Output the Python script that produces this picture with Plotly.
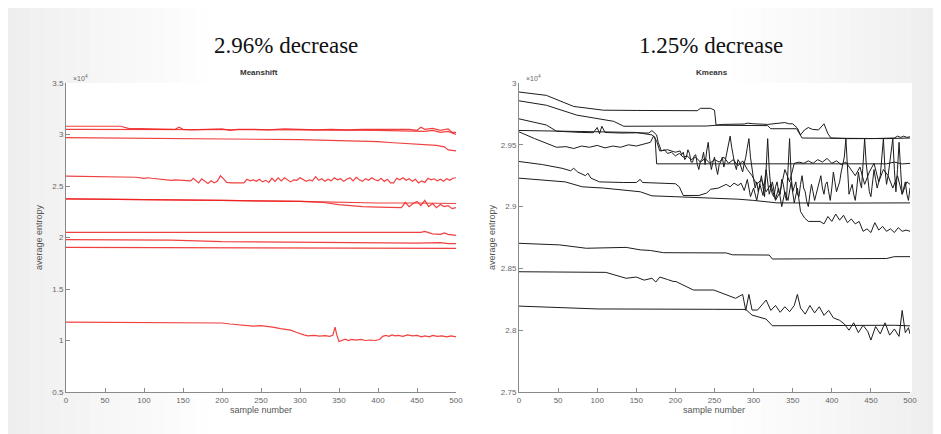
import plotly.graph_objects as go

# ---------------- DATA (values in units of 10^4) ----------------
# Meanshift panel
ms1_x = [0, 70, 80, 100, 140, 145, 150, 160, 180, 200, 210, 220, 240, 260, 280, 300, 320, 340, 360, 380, 400, 420, 440, 450, 455, 460, 470, 480, 490, 495, 500]
ms1_y = [3.08, 3.08, 3.06, 3.055, 3.05, 3.07, 3.05, 3.045, 3.05, 3.055, 3.04, 3.05, 3.05, 3.045, 3.055, 3.05, 3.045, 3.05, 3.045, 3.05, 3.05, 3.045, 3.05, 3.04, 3.07, 3.05, 3.06, 3.04, 3.055, 3.02, 3.02]
ms2_x = [0, 100, 200, 300, 400, 440, 460, 470, 480, 490, 500]
ms2_y = [3.05, 3.05, 3.048, 3.045, 3.04, 3.035, 3.03, 3.04, 3.02, 3.03, 3.0]
ms3_x = [0, 100, 200, 300, 350, 380, 400, 420, 440, 460, 475, 485, 490, 500]
ms3_y = [2.97, 2.965, 2.96, 2.95, 2.94, 2.935, 2.93, 2.92, 2.91, 2.9, 2.895, 2.88, 2.85, 2.84]
ms4_x = [0, 60, 90, 100, 105, 110, 130, 135, 140, 150, 160, 163, 166, 170, 174, 178, 182, 186, 190, 194, 198, 202, 206, 212, 220, 228, 232, 236, 240, 244, 248, 252, 256, 260, 264, 268, 272, 276, 280, 284, 288, 292, 296, 300, 304, 308, 312, 316, 320, 324, 328, 332, 336, 340, 344, 348, 352, 356, 360, 364, 368, 372, 376, 380, 384, 388, 392, 396, 400, 404, 408, 412, 416, 420, 424, 428, 432, 436, 440, 444, 448, 452, 456, 460, 464, 468, 472, 476, 480, 484, 488, 492, 496, 500]
ms4_y = [2.595, 2.59, 2.585, 2.575, 2.58, 2.575, 2.56, 2.555, 2.56, 2.555, 2.55, 2.575, 2.555, 2.53, 2.57, 2.545, 2.525, 2.55, 2.53, 2.545, 2.6, 2.57, 2.535, 2.53, 2.53, 2.53, 2.565, 2.55, 2.56, 2.545, 2.565, 2.54, 2.555, 2.535, 2.575, 2.545, 2.58, 2.55, 2.58, 2.56, 2.54, 2.56, 2.555, 2.58, 2.56, 2.545, 2.56, 2.55, 2.59, 2.555, 2.57, 2.545, 2.565, 2.55, 2.58, 2.56, 2.57, 2.545, 2.565, 2.58, 2.55, 2.585, 2.56, 2.545, 2.57, 2.555, 2.58, 2.56, 2.55, 2.575, 2.545, 2.565, 2.53, 2.53, 2.575, 2.56, 2.58, 2.555, 2.57, 2.545, 2.565, 2.53, 2.55, 2.535, 2.575, 2.56, 2.57, 2.55, 2.565, 2.545, 2.57, 2.555, 2.575, 2.58]
ms5_x = [0, 100, 200, 300, 350, 400, 450, 500]
ms5_y = [2.375, 2.37, 2.36, 2.35, 2.34, 2.335, 2.335, 2.33]
ms6_x = [0, 100, 200, 300, 330, 350, 380, 400, 420, 430, 435, 440, 445, 450, 455, 460, 465, 470, 475, 480, 485, 490, 495, 500]
ms6_y = [2.375, 2.37, 2.36, 2.35, 2.34, 2.32, 2.3, 2.295, 2.29, 2.29, 2.34, 2.3, 2.33, 2.35, 2.31, 2.36, 2.3, 2.33, 2.29, 2.32, 2.3, 2.31, 2.28, 2.29]
ms7_x = [0, 200, 400, 455, 460, 470, 480, 485, 490, 500]
ms7_y = [2.05, 2.05, 2.05, 2.05, 2.06, 2.035, 2.03, 2.045, 2.03, 2.02]
ms8_x = [0, 100, 130, 135, 200, 300, 365, 400, 450, 480, 490, 500]
ms8_y = [1.98, 1.975, 1.97, 1.975, 1.96, 1.955, 1.952, 1.945, 1.945, 1.95, 1.94, 1.94]
ms9_x = [0, 250, 500]
ms9_y = [1.905, 1.9, 1.895]
ms10_x = [0, 100, 150, 200, 210, 220, 230, 240, 250, 258, 265, 275, 282, 288, 295, 300, 305, 310, 318, 325, 332, 338, 342, 345, 347, 350, 354, 358, 362, 366, 372, 378, 384, 390, 396, 402, 406, 410, 414, 418, 422, 426, 432, 438, 444, 450, 456, 460, 466, 470, 476, 482, 488, 494, 500]
ms10_y = [1.178, 1.177, 1.172, 1.17, 1.16, 1.155, 1.145, 1.14, 1.145, 1.14, 1.13, 1.115, 1.11, 1.1, 1.08, 1.065, 1.055, 1.045, 1.05, 1.042, 1.048, 1.04, 1.05, 1.13, 1.06, 0.99, 1.005, 1.012, 1.0, 1.01, 1.003, 1.01, 1.0, 1.005, 1.0, 1.01, 1.04, 1.05, 1.04, 1.055, 1.045, 1.05, 1.04, 1.055, 1.045, 1.05, 1.035, 1.045, 1.035, 1.05, 1.04, 1.045, 1.035, 1.045, 1.035]

# Kmeans panel
km1_x = [0, 35, 70, 108, 150, 200, 228, 232, 245, 250, 252, 260, 288, 292, 300, 318, 330, 340, 345, 350, 356, 360, 365, 370, 375, 383, 390, 395, 399, 420, 450, 480, 484, 488, 492, 496, 500]
km1_y = [2.9927, 2.99, 2.981, 2.978, 2.9778, 2.9776, 2.9776, 2.9795, 2.9795, 2.978, 2.966, 2.9665, 2.9668, 2.9675, 2.967, 2.9665, 2.967, 2.968, 2.967, 2.967, 2.9635, 2.958, 2.962, 2.964, 2.9625, 2.962, 2.967, 2.959, 2.9555, 2.955, 2.955, 2.9555, 2.957, 2.956, 2.957, 2.956, 2.9565]
km2_x = [0, 35, 74, 121, 134, 160, 200, 240, 252, 300, 318, 322, 355, 362, 420, 470, 500]
km2_y = [2.9856, 2.982, 2.974, 2.969, 2.965, 2.965, 2.9648, 2.9652, 2.9658, 2.966, 2.9655, 2.963, 2.963, 2.9555, 2.955, 2.955, 2.9555]
km3_x = [0, 35, 48, 60, 80, 95, 100, 103, 106, 110, 115, 130, 150, 166, 170, 173, 176, 178, 182, 186, 190, 195, 200, 205, 210, 215, 220, 226, 232, 238, 244, 250, 256, 262, 268, 274, 280, 286, 292, 298, 304, 310, 316, 322, 328, 334, 340, 346, 352, 358, 364, 370, 376, 382, 388, 394, 400, 406, 412, 418, 424, 430, 436, 442, 448, 454, 460, 466, 472, 478, 484, 490, 496, 500]
km3_y = [2.971, 2.966, 2.961, 2.9605, 2.96, 2.9598, 2.964, 2.959, 2.965, 2.96, 2.9598, 2.9595, 2.9597, 2.9595, 2.9615, 2.96, 2.958, 2.952, 2.945, 2.946, 2.943, 2.944, 2.941, 2.943, 2.94, 2.941, 2.938, 2.94, 2.936, 2.939, 2.935, 2.938, 2.936, 2.94, 2.935, 2.938, 2.933, 2.937, 2.93, 2.925, 2.918, 2.922, 2.912, 2.918, 2.905, 2.912, 2.93, 2.92, 2.935, 2.936, 2.935, 2.937, 2.935, 2.938, 2.936, 2.939, 2.935, 2.937, 2.934, 2.936, 2.93, 2.925, 2.932, 2.918, 2.928, 2.935, 2.92, 2.93, 2.925, 2.915, 2.925, 2.91, 2.92, 2.918]
km4_x = [0, 100, 150, 170, 174, 176, 222, 300, 400, 470, 480, 490, 500]
km4_y = [2.9616, 2.9605, 2.96, 2.958, 2.956, 2.9346, 2.9346, 2.9345, 2.9348, 2.9346, 2.936, 2.9345, 2.935]
km5_pts = [
    (0, 2.9605), (20, 2.955), (48, 2.948), (60, 2.9485), (70, 2.947), (80, 2.949), (90, 2.948), (100, 2.9495),
    (110, 2.9475), (120, 2.949), (130, 2.948), (140, 2.95), (150, 2.949), (160, 2.951), (168, 2.952), (172, 2.957),
    (176, 2.953), (180, 2.945), (190, 2.946), (200, 2.944),
    (206, 2.945), (208, 2.942), (210, 2.944), (212, 2.938), (214, 2.94), (216, 2.946), (218, 2.943), (220, 2.936),
    (222, 2.936), (224, 2.941), (226, 2.942), (228, 2.934), (230, 2.93), (232, 2.937), (234, 2.938), (236, 2.944),
    (238, 2.934), (240, 2.945), (242, 2.952), (244, 2.938), (246, 2.93), (248, 2.936), (250, 2.94), (252, 2.932),
    (254, 2.926), (256, 2.934), (258, 2.936), (260, 2.94), (262, 2.932), (264, 2.938), (266, 2.945), (268, 2.95),
    (270, 2.957), (272, 2.948), (274, 2.94), (276, 2.934), (278, 2.93), (280, 2.938), (282, 2.936), (284, 2.932),
    (286, 2.928), (288, 2.935), (290, 2.94), (292, 2.948), (294, 2.955), (296, 2.94), (298, 2.93), (300, 2.922),
    (302, 2.915), (304, 2.92), (306, 2.912), (308, 2.918), (310, 2.925), (312, 2.916), (314, 2.908), (316, 2.93),
    (318, 2.955), (320, 2.93), (322, 2.915), (324, 2.91), (326, 2.908), (328, 2.916), (330, 2.92), (332, 2.912),
    (334, 2.91), (336, 2.922), (338, 2.918), (340, 2.91), (342, 2.905), (344, 2.93), (346, 2.955), (348, 2.925),
    (350, 2.912), (352, 2.916), (354, 2.92), (356, 2.91), (358, 2.908), (360, 2.918), (362, 2.925), (364, 2.915),
    (366, 2.912), (368, 2.904), (370, 2.9), (372, 2.91), (374, 2.918), (376, 2.912), (378, 2.905), (380, 2.91),
    (382, 2.915), (384, 2.92), (386, 2.925), (388, 2.915), (390, 2.91), (392, 2.918), (394, 2.92), (396, 2.912),
    (398, 2.905), (400, 2.915), (402, 2.928), (404, 2.92), (406, 2.912), (408, 2.916), (410, 2.92), (412, 2.928),
    (414, 2.935), (416, 2.94), (418, 2.955), (420, 2.93), (422, 2.91), (424, 2.914), (426, 2.918), (428, 2.91),
    (430, 2.905), (432, 2.915), (434, 2.928), (436, 2.92), (438, 2.915), (440, 2.935), (442, 2.955), (444, 2.935),
    (446, 2.92), (448, 2.912), (450, 2.908), (452, 2.918), (454, 2.93), (456, 2.922), (458, 2.915), (460, 2.92),
    (462, 2.925), (464, 2.94), (466, 2.955), (468, 2.93), (470, 2.918), (472, 2.925), (474, 2.935), (476, 2.945),
    (478, 2.955), (480, 2.93), (482, 2.912), (484, 2.93), (486, 2.952), (488, 2.93), (490, 2.91), (492, 2.915),
    (494, 2.92), (496, 2.91), (498, 2.905), (500, 2.915),
]
km5_x = [p[0] for p in km5_pts]
km5_y = [p[1] for p in km5_pts]
km6_x = [0, 30, 55, 66, 70, 75, 85, 88, 92, 103, 134, 150, 155, 158, 200, 205, 210, 230, 240, 245, 255, 265, 270, 275, 280, 284, 288, 292, 296, 300, 304, 308, 312, 316, 320, 324, 328, 332, 336, 340, 344, 348, 352, 356, 360, 365, 370, 375, 385, 390, 395, 400, 405, 410, 415, 420, 425, 430, 435, 440, 445, 450, 455, 460, 465, 470, 475, 480, 485, 490, 495, 500]
km6_y = [2.9365, 2.934, 2.931, 2.929, 2.931, 2.928, 2.925, 2.927, 2.923, 2.92, 2.9195, 2.9195, 2.922, 2.9195, 2.9185, 2.916, 2.909, 2.909, 2.911, 2.914, 2.915, 2.918, 2.916, 2.919, 2.917, 2.919, 2.913, 2.922, 2.908, 2.915, 2.905, 2.918, 2.909, 2.93, 2.91, 2.92, 2.906, 2.915, 2.9, 2.912, 2.905, 2.92, 2.903, 2.915, 2.896, 2.891, 2.888, 2.888, 2.888, 2.886, 2.892, 2.888, 2.894, 2.889, 2.893, 2.887, 2.89, 2.886, 2.888, 2.88, 2.882, 2.879, 2.887, 2.881, 2.884, 2.88, 2.882, 2.879, 2.883, 2.88, 2.881, 2.88]
km7_x = [0, 59, 81, 108, 155, 170, 200, 250, 280, 300, 330, 400, 450, 500]
km7_y = [2.923, 2.92, 2.916, 2.915, 2.912, 2.9087, 2.908, 2.907, 2.906, 2.905, 2.903, 2.9028, 2.9028, 2.903]
km8_x = [0, 52, 86, 133, 137, 155, 168, 185, 249, 265, 273, 320, 324, 400, 470, 480, 500]
km8_y = [2.8703, 2.869, 2.8663, 2.8665, 2.867, 2.865, 2.8645, 2.8627, 2.863, 2.8625, 2.861, 2.8608, 2.8576, 2.858, 2.858, 2.8595, 2.8595]
km9_x = [0, 111, 137, 150, 160, 170, 175, 180, 190, 197, 201, 223, 249, 277, 286, 290, 294, 298, 305, 316, 322, 328, 334, 340, 346, 352, 356, 360, 366, 372, 378, 384, 390, 396, 402, 410, 416, 422, 428, 434, 440, 446, 450, 456, 462, 468, 474, 480, 486, 490, 494, 498, 500]
km9_y = [2.8473, 2.8468, 2.842, 2.843, 2.8405, 2.842, 2.839, 2.843, 2.841, 2.8395, 2.8393, 2.8325, 2.8325, 2.8258, 2.829, 2.816, 2.829, 2.8163, 2.8163, 2.8244, 2.816, 2.82, 2.8145, 2.819, 2.815, 2.82, 2.829, 2.818, 2.813, 2.82, 2.814, 2.819, 2.812, 2.816, 2.81, 2.808, 2.805, 2.8, 2.806, 2.798, 2.804, 2.799, 2.792, 2.803, 2.797, 2.806, 2.796, 2.801, 2.795, 2.816, 2.798, 2.802, 2.797]
km10_x = [0, 57, 100, 249, 290, 298, 316, 324, 406, 420, 440, 460, 480, 500]
km10_y = [2.8195, 2.818, 2.8172, 2.8169, 2.8168, 2.8122, 2.809, 2.8036, 2.8038, 2.8035, 2.804, 2.8035, 2.804, 2.8035]

ms_series = [(ms1_x, ms1_y), (ms2_x, ms2_y), (ms3_x, ms3_y), (ms4_x, ms4_y), (ms5_x, ms5_y),
             (ms6_x, ms6_y), (ms7_x, ms7_y), (ms8_x, ms8_y), (ms9_x, ms9_y), (ms10_x, ms10_y)]
km_series = [(km1_x, km1_y), (km2_x, km2_y), (km3_x, km3_y), (km4_x, km4_y), (km5_x, km5_y),
             (km6_x, km6_y), (km7_x, km7_y), (km8_x, km8_y), (km9_x, km9_y), (km10_x, km10_y)]

x_ticks = [0, 50, 100, 150, 200, 250, 300, 350, 400, 450, 500]
ms_yticks = [0.5, 1, 1.5, 2, 2.5, 3, 3.5]
ms_yticktext = ["0.5", "1", "1.5", "2", "2.5", "3", "3.5"]
km_yticks = [2.75, 2.8, 2.85, 2.9, 2.95, 3.0]
km_yticktext = ["2.75", "2.8", "2.85", "2.9", "2.95", "3"]

headline_left = "2.96% decrease"
headline_right = "1.25% decrease"

# ---------------- FIGURE ----------------
W, H = 941, 434
OFF = 8  # page offset of the figure inside the browser window

fig = go.Figure()
for sx, sy in ms_series:
    fig.add_trace(go.Scatter(x=sx, y=sy, mode="lines", xaxis="x", yaxis="y",
                             line=dict(color="rgba(238,30,30,0.85)", width=1.2), hoverinfo="skip"))
for sx, sy in km_series:
    fig.add_trace(go.Scatter(x=sx, y=sy, mode="lines", xaxis="x2", yaxis="y2",
                             line=dict(color="#1c1c1c", width=1.0), hoverinfo="skip"))

def px_x(p):
    return (p - OFF) / W

def px_y(p):
    return 1 - (p - OFF) / H

ydom = [px_y(392), px_y(83)]
axis_common = dict(showgrid=False, zeroline=False, showline=True, linecolor="#8a8a8a", linewidth=1,
                   ticks="inside", ticklen=4, tickcolor="#8a8a8a", automargin=False,
                   tickfont=dict(family="Liberation Sans, Arial", size=8, color="#666"))

fig.update_layout(
    width=W, height=H, showlegend=False,
    margin=dict(l=0, r=0, t=0, b=0, autoexpand=False),
    paper_bgcolor="white", plot_bgcolor="rgba(0,0,0,0)",
    xaxis=dict(domain=[px_x(66), px_x(456)], range=[0, 500], tickvals=x_ticks, anchor="y", **axis_common),
    yaxis=dict(domain=ydom, range=[0.5, 3.5], tickvals=ms_yticks, ticktext=ms_yticktext, anchor="x", **axis_common),
    xaxis2=dict(domain=[px_x(519), px_x(910)], range=[0, 500], tickvals=x_ticks, anchor="y2", **axis_common),
    yaxis2=dict(domain=ydom, range=[2.75, 3.0], tickvals=km_yticks, ticktext=km_yticktext, anchor="x2", **axis_common),
)

# slide background gradient (edges) + white figure boxes
shapes = []
n = 14
for i in range(n):
    a = 0.16 * (1 - i / n)
    shapes.append(dict(type="rect", xref="paper", yref="paper", layer="below",
                       x0=px_x(i * 15), x1=px_x((i + 1) * 15), y0=0, y1=1,
                       fillcolor=f"rgba(150,150,150,{a:.3f})", line=dict(width=0)))
for i in range(n):
    a = 0.16 * (1 - i / n)
    shapes.append(dict(type="rect", xref="paper", yref="paper", layer="below",
                       x0=px_x(W - (i + 1) * 15), x1=px_x(W - i * 15), y0=0, y1=1,
                       fillcolor=f"rgba(150,150,150,{a:.3f})", line=dict(width=0)))
shapes.append(dict(type="rect", xref="paper", yref="paper", layer="below",
                   x0=px_x(66), x1=px_x(458), y0=px_y(392), y1=px_y(83),
                   fillcolor="white", line=dict(width=0)))
shapes.append(dict(type="rect", xref="paper", yref="paper", layer="below",
                   x0=px_x(519), x1=px_x(912), y0=px_y(392), y1=px_y(83),
                   fillcolor="white", line=dict(width=0)))
fig.update_layout(shapes=shapes)

serif = "Liberation Serif, Times New Roman, serif"
sans = "Liberation Sans, Arial, sans-serif"

def label(text, x, y, size, color, family, angle=0):
    return dict(text=text, x=px_x(x), y=px_y(y), xref="paper", yref="paper",
                xanchor="center", yanchor="middle", showarrow=False, textangle=angle,
                font=dict(family=family, size=size, color=color))

ann = [
    label(headline_left, 286, 45, 23, "#111", serif),
    label(headline_right, 711, 45, 23, "#111", serif),
    label("<b>Meanshift</b>", 259, 73, 8, "#333", sans),
    label("<b>Kmeans</b>", 712, 73, 8, "#333", sans),
    label("sample number", 261, 410, 9, "#555", sans),
    label("sample number", 714, 410, 9, "#555", sans),
    label("average entropy", 39, 237, 9, "#555", sans, -90),
    label("average entropy", 492, 237, 9, "#555", sans, -90),
    label("×10<sup>4</sup>", 80, 78, 7, "#666", sans),
    label("×10<sup>4</sup>", 533, 78, 7, "#666", sans),
]
fig.update_layout(annotations=ann)

fig.write_html("out.html")
